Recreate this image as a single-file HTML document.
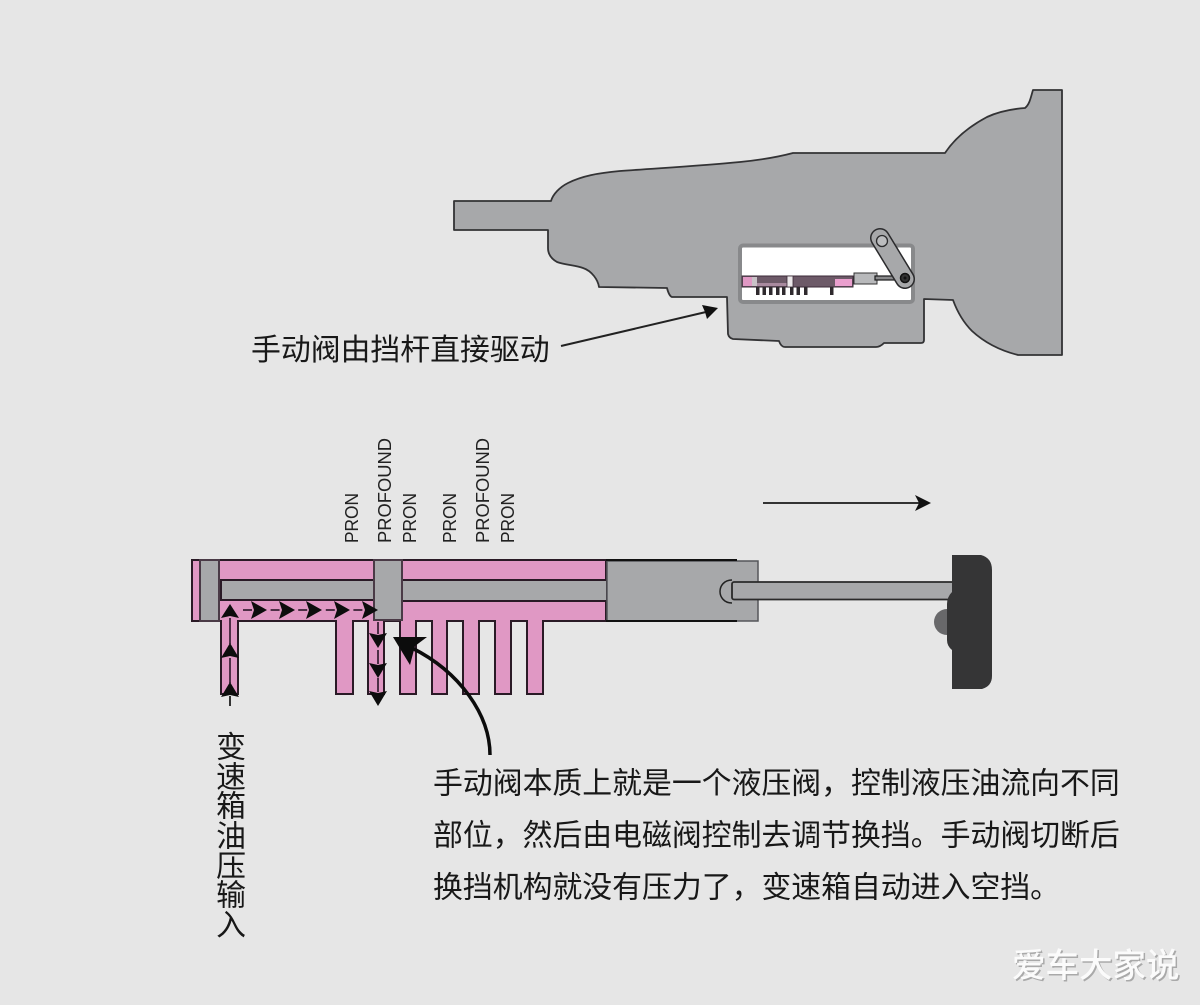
<!DOCTYPE html>
<html lang="zh">
<head>
<meta charset="utf-8">
<title>手动阀</title>
<style>
html,body{margin:0;padding:0;background:#e6e6e6}
svg{display:block}
.cn{font-family:"Liberation Sans","Noto Sans CJK SC",sans-serif;font-size:29.87px;fill:#181818}
.lb{font-family:"Liberation Sans",sans-serif;font-size:18.5px;fill:#222}
</style>
</head>
<body>
<svg xmlns="http://www.w3.org/2000/svg" width="1200" height="1005" viewBox="0 0 1200 1005">
<rect width="1200" height="1005" fill="#e6e6e6"/>

<!-- Transmission housing -->
<path d="M454 201 H551 C553 194 560 187 568 183 C582 176 598 173 620 171 C660 168 700 166 740 162 C760 160 778 157 793 153 H945 C955 138 970 126 987 117 C1000 111 1012 109 1025 108 C1030 104 1031 96 1033 90 H1062 V355 H1018 C1002 351 985 343 972 331 C963 322 957 311 953 300 L924 299 V340 Q924 343 921 343 H884 Q880 347 876 347 H785 Q781 347 779 341 L733 339 Q729 338 728 334 L727 297 H672 Q669 296 667 288 L599 287 C598 280 592 271 583 268 C575 265 565 265 557 262 C550 258 548 253 548 248 V230 H454 Z" fill="#a7a8aa" stroke="#333335" stroke-width="1.800" stroke-linejoin="round"/>

<!-- Window -->
<rect x="740" y="245.500" width="173" height="56.500" rx="3" fill="#ffffff" stroke="#88898b" stroke-width="4"/>

<!-- Mini valve -->
<g>
  <rect x="742" y="276" width="111" height="11" fill="#6d5a68" stroke="#3b2a37" stroke-width="1"/>
  <rect x="743" y="277" width="9" height="9" fill="#e098c4"/>
  <rect x="752" y="277" width="5" height="9" fill="#c9c2c7"/>
  <rect x="757" y="283" width="30" height="3" fill="#a98a9f"/>
  <rect x="787" y="276" width="6" height="11" fill="#ece8ea" stroke="#3b2a37" stroke-width=".8"/>
  <rect x="835" y="279" width="17" height="7" fill="#ea9fce"/>
  <g fill="#2f2a2e">
    <rect x="756" y="287" width="3.500" height="8"/>
    <rect x="762.500" y="287" width="3.500" height="8"/>
    <rect x="769" y="287" width="3.500" height="8"/>
    <rect x="776" y="287" width="3.500" height="8"/>
    <rect x="782" y="287" width="3.500" height="8"/>
    <rect x="790" y="287" width="3.500" height="8"/>
    <rect x="796.500" y="287" width="3.500" height="8"/>
    <rect x="804" y="287" width="3.500" height="8"/>
    <rect x="830" y="287" width="3.500" height="8"/>
  </g>
  <rect x="854" y="273" width="23" height="11" fill="#b8b9bb" stroke="#333" stroke-width="1"/>
  <rect x="875" y="276" width="30" height="4" fill="#8a8a8c" stroke="#1a1a1a" stroke-width="1.200"/>
</g>

<!-- Lever -->
<line x1="880" y1="238" x2="905" y2="279" stroke="#2b2b2d" stroke-width="20" stroke-linecap="round"/>
<line x1="880" y1="238" x2="905" y2="279" stroke="#a7a8aa" stroke-width="17" stroke-linecap="round"/>
<circle cx="882" cy="241" r="5.500" fill="#bcbdbf" stroke="#2b2b2d" stroke-width="1.300"/>
<circle cx="905" cy="278" r="4.500" fill="#333" stroke="#111" stroke-width="1.500"/>
<circle cx="905" cy="278" r="1.500" fill="#111"/>

<!-- Top direction arrow -->
<line x1="763" y1="503" x2="920" y2="503" stroke="#333" stroke-width="2"/>
<path d="M931 503 L915 495 L919 503 L915 511 Z" fill="#111"/>

<!-- Leader arrow -->
<line x1="561" y1="346" x2="706" y2="312" stroke="#222" stroke-width="2"/>
<path d="M718 308 L702 305 L705 312 L707 319 Z" fill="#111"/>

<!-- Big valve: pink body -->
<path d="M192 560 H606 V621 H543 V694 H527 V621 H511 V694 H495 V621 H479 V694 H463 V621 H447 V694 H432 V621 H416 V694 H400 V621 H384 V694 H368 V621 H353 V694 H336 V621 H238 V694 H221 V621 H192 Z" fill="#e098c4" stroke="#2a1a26" stroke-width="2" stroke-linejoin="miter"/>

<!-- Spools -->
<rect x="200" y="560" width="19" height="61" fill="#a7a8aa" stroke="#4a3a46" stroke-width="2"/>
<rect x="221" y="580" width="153" height="20" fill="#a7a8aa" stroke="#2a1a26" stroke-width="2"/>
<rect x="402" y="580" width="205" height="21" fill="#a7a8aa" stroke="#2a1a26" stroke-width="2"/>
<rect x="374" y="560" width="28" height="60" fill="#a7a8aa" stroke="#4a3a46" stroke-width="2"/>

<!-- Right cylinder -->
<rect x="607" y="561" width="151" height="60" fill="#a7a8aa" stroke="#55565a" stroke-width="1.500"/>
<line x1="606" y1="560" x2="737" y2="560" stroke="#111" stroke-width="2"/>
<line x1="606" y1="621" x2="737" y2="621" stroke="#111" stroke-width="2"/>
<path d="M732 580 C724 580 720 586 720 591.500 C720 597 724 603 732 603" fill="#a7a8aa" stroke="#222" stroke-width="1.500"/>

<!-- Rod -->
<rect x="732" y="582" width="222" height="17.500" rx="2" fill="#a7a8aa" stroke="#2a2a2a" stroke-width="1.800"/>

<!-- Knob -->
<circle cx="947" cy="622" r="13" fill="#68686a"/>
<path d="M952 555 H981 Q992 558 992 570 V676 Q992 686 982 689 H952 V650 Q947 646 947 640 V604 Q947 597 952 592 Z" fill="#353536"/>

<!-- Flow dashes -->
<g stroke="#4d2f46" stroke-width="2" fill="none">
  <path d="M243 610 H372" stroke-dasharray="9 18.600"/>
  <line x1="230" y1="618" x2="230" y2="644"/>
  <line x1="230" y1="658" x2="230" y2="683"/>
  <line x1="230" y1="696" x2="230" y2="706" stroke="#333"/>
  <line x1="378" y1="622" x2="378" y2="634"/>
  <line x1="378" y1="650" x2="378" y2="664"/>
  <line x1="378" y1="678" x2="378" y2="692"/>
</g>
<!-- Flow heads -->
<g fill="#0d0d0d">
  <path d="M267 610 L251 601 L254 610 L251 619 Z"/>
  <path d="M295 610 L279 601 L282 610 L279 619 Z"/>
  <path d="M322 610 L306 601 L309 610 L306 619 Z"/>
  <path d="M350 610 L334 601 L337 610 L334 619 Z"/>
  <path d="M378 610 L362 601 L365 610 L362 619 Z"/>
  <!-- up -->
  <path d="M230 604 L221 618 L230 616 L239 618 Z"/>
  <path d="M230 643 L221 658 L230 656 L239 658 Z"/>
  <path d="M230 682 L221 697 L230 695 L239 697 Z"/>
  <!-- down -->
  <path d="M378 648 L369 633 L378 635 L387 633 Z"/>
  <path d="M378 678 L369 663 L378 665 L387 663 Z"/>
  <path d="M378 706 L369 691 L378 693 L387 691 Z"/>
</g>

<!-- Curved callout arrow -->
<path d="M490 755 C490 715 460 672 412 648" fill="none" stroke="#0c0c0c" stroke-width="3.500"/>
<path d="M393 637 L427 637 L415 646 L410 665 Z" fill="#0c0c0c"/>

<!-- Rotated labels -->
<g class="lb">
  <text transform="translate(358,543) rotate(-90)" textLength="50" lengthAdjust="spacingAndGlyphs">PRON</text>
  <text transform="translate(391,543) rotate(-90)" textLength="105" lengthAdjust="spacingAndGlyphs">PROFOUND</text>
  <text transform="translate(416,543) rotate(-90)" textLength="50" lengthAdjust="spacingAndGlyphs">PRON</text>
  <text transform="translate(456,543) rotate(-90)" textLength="50" lengthAdjust="spacingAndGlyphs">PRON</text>
  <text transform="translate(489,543) rotate(-90)" textLength="105" lengthAdjust="spacingAndGlyphs">PROFOUND</text>
  <text transform="translate(514,543) rotate(-90)" textLength="50" lengthAdjust="spacingAndGlyphs">PRON</text>
</g>

<!-- Chinese labels -->
<text class="cn" x="251" y="360">手动阀由挡杆直接驱动</text>
<text class="cn" x="433" y="793.500">手动阀本质上就是一个液压阀，控制液压油流向不同</text>
<text class="cn" x="433" y="845.500">部位，然后由电磁阀控制去调节换挡。手动阀切断后</text>
<text class="cn" x="433" y="897.500">换挡机构就没有压力了，变速箱自动进入空挡。</text>
<text class="cn" text-anchor="middle"><tspan x="231" y="757.500">变</tspan><tspan x="231" y="787.500">速</tspan><tspan x="231" y="816.500">箱</tspan><tspan x="231" y="846.500">油</tspan><tspan x="231" y="876.500">压</tspan><tspan x="231" y="905.500">输</tspan><tspan x="231" y="935.500">入</tspan></text>

<!-- Watermark -->
<text x="1013.500" y="978.500" font-family="'Liberation Sans','Noto Sans CJK SC',sans-serif" font-size="33.500" font-weight="500" fill="#a9a9a9">爱车大家说</text>
<text x="1012" y="977" font-family="'Liberation Sans','Noto Sans CJK SC',sans-serif" font-size="33.500" font-weight="500" fill="#fbfbfb">爱车大家说</text>
</svg>
</body>
</html>
